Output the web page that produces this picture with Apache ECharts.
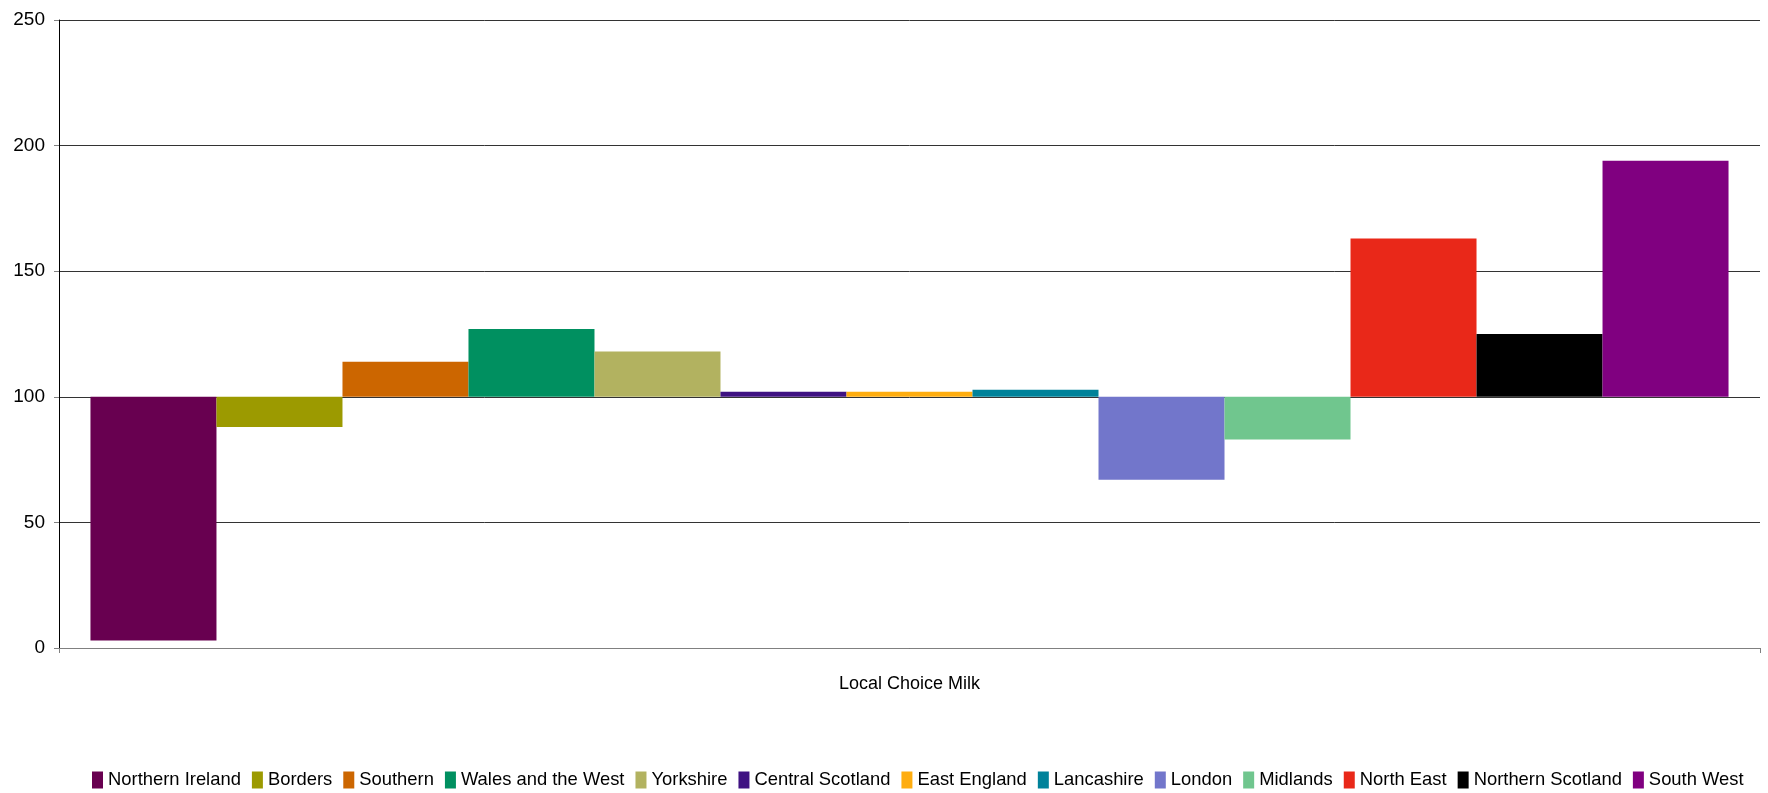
<!DOCTYPE html>
<html><head><meta charset="utf-8">
<script src="https://cdn.jsdelivr.net/npm/echarts@6/dist/echarts.min.js"></script>
<style>html,body{margin:0;padding:0;background:#fff}#c{width:1768px;height:793px}</style>
</head><body><div id="c"></div>
<script>
const categories = ['Local Choice Milk'];
const regions = ['Northern Ireland','Borders','Southern','Wales and the West','Yorkshire','Central Scotland','East England','Lancashire','London','Midlands','North East','Northern Scotland','South West'];
const values = [3, 88, 114, 127, 118, 102, 102, 102.8, 67, 83, 163, 125, 194];
const colors = ['#680050','#9C9A00','#CC6600','#009060','#B2B260','#3F1282','#FFAD0F','#00829A','#7276CB','#70C68E','#E92819','#000000','#800080'];
const baseline = 100;
const yMin = 0, yMax = 250, yStep = 50;
const categoryGapRatio = 0.037;

const FONT = "'Liberation Sans',Arial,sans-serif";
const n = regions.length;

const series = regions.map((r, i) => ({
  name: r,
  type: 'custom',
  itemStyle: { color: colors[i] },
  encode: { x: 0, y: 1 },
  data: [[0, values[i]]],
  renderItem: function (params, api) {
    const cat = api.value(0);
    const v = api.value(1);
    const center = api.coord([cat, baseline]);
    const top = api.coord([cat, v]);
    const bw = api.size([1, 0])[0];
    const usable = bw * (1 - categoryGapRatio);
    const w = usable / n;
    const x0 = center[0] - usable / 2 + i * w;
    const y0 = Math.min(center[1], top[1]);
    const h = Math.abs(center[1] - top[1]);
    return {
      type: 'rect',
      shape: { x: x0, y: y0, width: w, height: h },
      style: { fill: colors[i] }
    };
  }
}));

const chart = echarts.init(document.getElementById('c'), null, { renderer: 'canvas' });
chart.setOption({
  animation: false,
  backgroundColor: '#fff',
  grid: { left: 59, right: 8, top: 20, bottom: 145, containLabel: false },
  legend: {
    data: regions, left: 92, top: 771, padding: 0,
    itemWidth: 11, itemHeight: 17, itemGap: 11,
    icon: 'rect',
    textStyle: { fontFamily: FONT, fontSize: 18.4, color: '#000' }
  },
  xAxis: {
    type: 'category', data: categories,
    axisLine: { lineStyle: { color: '#808080', width: 1 } },
    axisTick: { show: true, length: 5, lineStyle: { color: '#808080' } },
    axisLabel: { fontFamily: FONT, fontSize: 18, color: '#000', margin: 27 }
  },
  yAxis: {
    type: 'value', min: yMin, max: yMax, interval: yStep,
    axisLine: { show: true, lineStyle: { color: '#000', width: 1 } },
    axisTick: { show: true, length: 5, lineStyle: { color: '#808080' } },
    splitLine: { show: true, lineStyle: { color: '#333', width: 1 } },
    axisLabel: { fontFamily: FONT, fontSize: 19, color: '#000', margin: 14 }
  },
  series: series
});
</script></body></html>
